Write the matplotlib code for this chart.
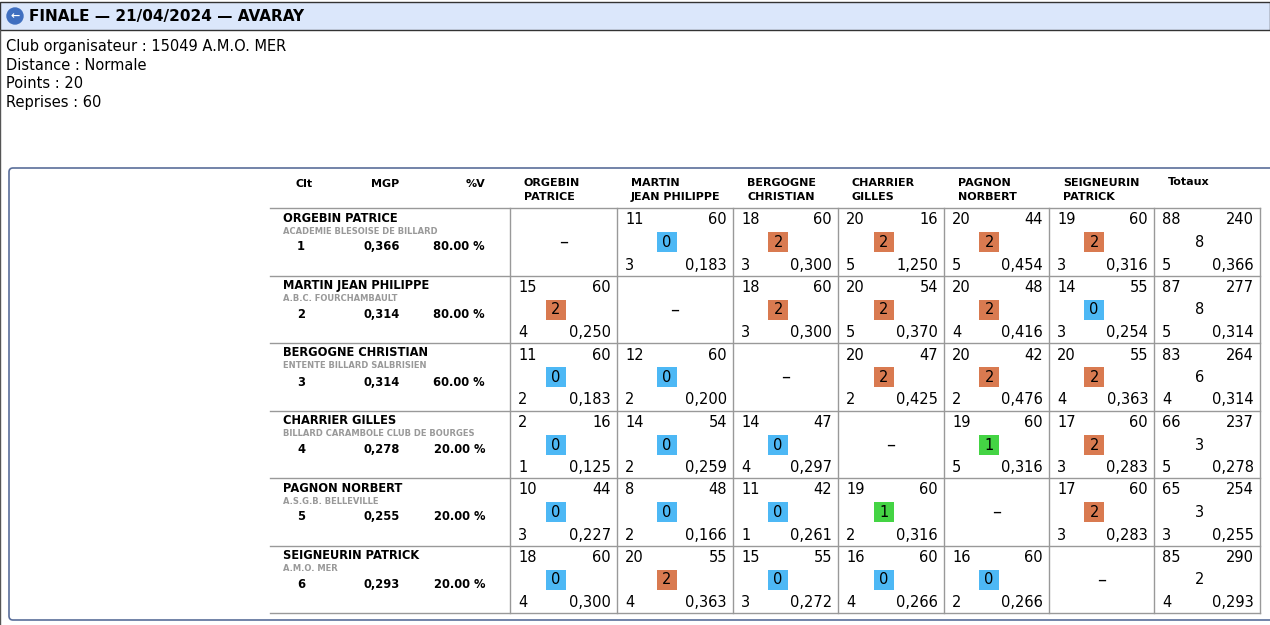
import matplotlib.pyplot as plt
from matplotlib.patches import Rectangle, FancyBboxPatch

# Joueurs
players = ['ORGEBIN PATRICE', 'MARTIN JEAN PHILIPPE', 'BERGOGNE CHRISTIAN',
           'CHARRIER GILLES', 'PAGNON NORBERT', 'SEIGNEURIN PATRICK']
col_heads = ['ORGEBIN\nPATRICE', 'MARTIN\nJEAN PHILIPPE', 'BERGOGNE\nCHRISTIAN',
             'CHARRIER\nGILLES', 'PAGNON\nNORBERT', 'SEIGNEURIN\nPATRICK']
clubs = ['ACADEMIE BLESOISE DE BILLARD', 'A.B.C. FOURCHAMBAULT', 'ENTENTE BILLARD SALBRISIEN',
         'BILLARD CARAMBOLE CLUB DE BOURGES', 'A.S.G.B. BELLEVILLE', 'A.M.O. MER']
clt = [1, 2, 3, 4, 5, 6]
mgp = ['0,366', '0,314', '0,314', '0,278', '0,255', '0,293']
pct_v = ['80.00 %', '80.00 %', '60.00 %', '20.00 %', '20.00 %', '20.00 %']

# Matrice des rencontres : points, reprises, points de match, serie, moyenne
points = [[None, 11, 18, 20, 20, 19, 88],
          [15, None, 18, 20, 20, 14, 87],
          [11, 12, None, 20, 20, 20, 83],
          [2, 14, 14, None, 19, 17, 66],
          [10, 8, 11, 19, None, 17, 65],
          [18, 20, 15, 16, 16, None, 85]]
reprises = [[None, 60, 60, 16, 44, 60, 240],
            [60, None, 60, 54, 48, 55, 277],
            [60, 60, None, 47, 42, 55, 264],
            [16, 54, 47, None, 60, 60, 237],
            [44, 48, 42, 60, None, 60, 254],
            [60, 55, 55, 60, 60, None, 290]]
match_pts = [[None, 0, 2, 2, 2, 2, 8],
             [2, None, 2, 2, 2, 0, 8],
             [0, 0, None, 2, 2, 2, 6],
             [0, 0, 0, None, 1, 2, 3],
             [0, 0, 0, 1, None, 2, 3],
             [0, 2, 0, 0, 0, None, 2]]
series = [[None, 3, 3, 5, 5, 3, 5],
          [4, None, 3, 5, 4, 3, 5],
          [2, 2, None, 2, 2, 4, 4],
          [1, 2, 4, None, 5, 3, 5],
          [3, 2, 1, 2, None, 3, 3],
          [4, 4, 3, 4, 2, None, 4]]
moyennes = [[None, '0,183', '0,300', '1,250', '0,454', '0,316', '0,366'],
            ['0,250', None, '0,300', '0,370', '0,416', '0,254', '0,314'],
            ['0,183', '0,200', None, '0,425', '0,476', '0,363', '0,314'],
            ['0,125', '0,259', '0,297', None, '0,316', '0,283', '0,278'],
            ['0,227', '0,166', '0,261', '0,316', None, '0,283', '0,255'],
            ['0,300', '0,363', '0,272', '0,266', '0,266', None, '0,293']]

badge_colors = {0: '#4db8f5', 1: '#44d444', 2: '#d97a50'}

plt.rcParams['font.family'] = 'DejaVu Sans'
fig = plt.figure(figsize=(12.7, 6.25), dpi=100)
ax = fig.add_axes([0, 0, 1, 1])
ax.set_xlim(0, 1270)
ax.set_ylim(625, 0)
ax.axis('off')

# En-tete
ax.add_patch(Rectangle((0, 2), 1270, 28, facecolor='#dbe7fb', edgecolor='#333333', lw=1))
ax.add_patch(plt.Circle((15, 16), 8, color='#3f6fc0'))
ax.text(15, 16.5, '←', color='white', fontsize=8, fontweight='bold', ha='center', va='center')
ax.text(29, 16.5, 'FINALE — 21/04/2024 — AVARAY', fontsize=11, fontweight='bold', va='center')
infos = ['Club organisateur : 15049 A.M.O. MER', 'Distance : Normale', 'Points : 20', 'Reprises : 60']
for i, t in enumerate(infos):
    ax.text(6, 46 + 19 * i, t, fontsize=10.5, va='center')
ax.plot([0, 0], [30, 625], color='#555555', lw=1)

# Cadre du tableau
ax.add_patch(FancyBboxPatch((9, 168), 1270, 452, boxstyle='round,pad=0,rounding_size=4',
                            facecolor='white', edgecolor='#5a6e9a', lw=1.2))

xs = [510, 617, 733, 838, 944, 1049, 1154, 1260]
y0, rh = 208, 67.5
ys = [y0 + rh * i for i in range(len(players) + 1)]

# Titres de colonnes
ax.text(304, 184, 'Clt', fontsize=8, fontweight='bold', va='center', ha='center')
ax.text(385, 184, 'MGP', fontsize=8, fontweight='bold', va='center', ha='center')
ax.text(485, 184, '%V', fontsize=8, fontweight='bold', va='center', ha='right')
for j, h in enumerate(col_heads):
    ax.text(xs[j] + 14, 190, h, fontsize=8, fontweight='bold', va='center', linespacing=1.5)
ax.text(1168, 182, 'Totaux', fontsize=8, fontweight='bold', va='center')

# Lignes de la grille
for y in ys:
    ax.plot([270, xs[-1]], [y, y], color='#999999', lw=1)
for x in xs:
    ax.plot([x, x], [ys[0], ys[-1]], color='#999999', lw=1)

for i, name in enumerate(players):
    top = ys[i]
    ax.text(283, top + 10, name, fontsize=8.3, fontweight='bold', va='center')
    ax.text(283, top + 23, clubs[i], fontsize=6, fontweight='bold', color='#999999', va='center')
    ax.text(301, top + 39, str(clt[i]), fontsize=8.3, fontweight='bold', va='center', ha='center')
    ax.text(400, top + 39, mgp[i], fontsize=8.3, fontweight='bold', va='center', ha='right')
    ax.text(485, top + 39, pct_v[i], fontsize=8.3, fontweight='bold', va='center', ha='right')
    for j in range(7):
        left, right = xs[j], xs[j + 1]
        if points[i][j] is None:
            ax.text((left + right) / 2, top + rh / 2, '–', fontsize=13, ha='center', va='center')
            continue
        ax.text(left + 8, top + 12, str(points[i][j]), fontsize=10.5, va='center')
        ax.text(right - 6, top + 12, str(reprises[i][j]), fontsize=10.5, va='center', ha='right')
        ax.text(left + 8, top + 57, str(series[i][j]), fontsize=10.5, va='center')
        ax.text(right - 6, top + 57, moyennes[i][j], fontsize=10.5, va='center', ha='right')
        bx = left + (right - left) * 0.43
        mp = match_pts[i][j]
        if j < 6:
            ax.add_patch(Rectangle((bx - 10, top + 24), 20, 20, facecolor=badge_colors[mp], edgecolor='none'))
        ax.text(bx, top + 34.5, str(mp), fontsize=10.5, ha='center', va='center')

fig.savefig('out.png', dpi=100)
